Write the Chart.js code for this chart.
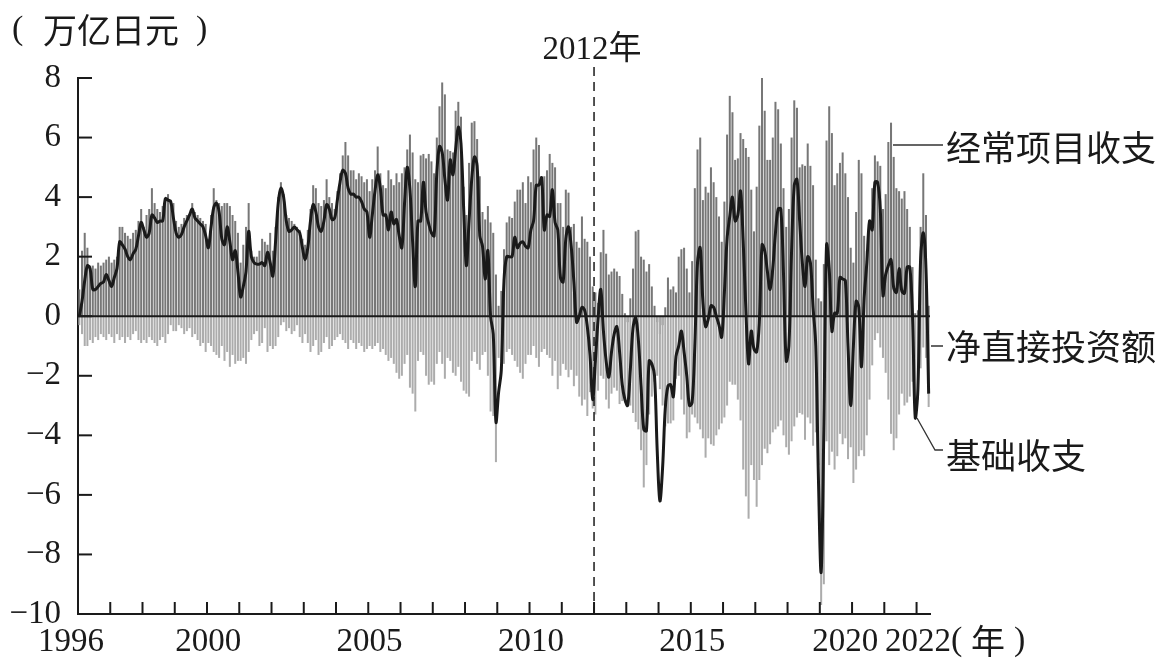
<!DOCTYPE html>
<html>
<head>
<meta charset="utf-8">
<script src="https://cdn.jsdelivr.net/npm/chart.js@4.4.0/dist/chart.umd.min.js"></script>
<style>
  html, body { margin: 0; padding: 0; background: #fff; }
  #wrap { width: 1166px; height: 672px; }
</style>
</head>
<body>
<div id="wrap"><canvas id="bopChart" width="1166" height="672"></canvas></div>
<script>
// monthly values, Jan 1996 - May 2022, trillion yen
const currentAccount = [
  0.9, 2.2, 2.8, 2.3, 1.7, 1.7, 1.6, 1.8, 1.7, 1.8, 1.9, 2.0,      // 1996
  1.8, 1.9, 2.0, 3.0, 3.0, 2.8, 2.7, 2.6, 2.8, 2.9, 3.2, 3.6,      // 1997
  3.0, 3.4, 3.6, 4.3, 3.8, 3.6, 3.5, 3.7, 3.9, 4.1, 3.9, 3.8,      // 1998
  3.2, 3.0, 3.1, 3.3, 3.4, 3.4, 3.8, 3.5, 3.4, 3.3, 3.2, 3.1,      // 1999
  2.6, 3.4, 4.3, 3.9, 3.8, 3.7, 3.8, 3.8, 3.7, 3.4, 3.2, 2.8,      // 2000
  1.8, 2.4, 3.0, 3.8, 2.2, 2.0, 2.0, 2.2, 2.6, 2.5, 2.4, 2.8,      // 2001
  2.2, 3.0, 4.0, 4.5, 4.1, 3.4, 3.3, 3.2, 3.1, 3.0, 2.9, 2.6,      // 2002
  2.4, 2.9, 3.6, 4.4, 4.3, 3.8, 3.7, 3.9, 4.6, 4.0, 3.8, 3.6,      // 2003
  4.2, 4.8, 5.4, 5.85, 5.4, 4.9, 4.9, 4.6, 4.8, 4.7, 4.5, 4.6,     // 2004
  4.2, 4.6, 4.9, 5.7, 4.8, 4.4, 4.3, 4.9, 4.6, 4.4, 4.8, 4.5,      // 2005
  4.8, 5.0, 5.6, 6.1, 5.5, 4.6, 4.5, 5.4, 5.45, 5.3, 5.45, 5.2,    // 2006
  4.8, 6.0, 7.05, 7.85, 7.45, 5.6, 5.55, 5.5, 6.9, 7.2, 6.7, 4.35, // 2007
  3.4, 5.15, 6.5, 6.55, 5.95, 4.7, 3.5, 3.25, 3.7, 3.15, 2.8, 1.4, // 2008
  0.35, 0.85, 2.25, 3.15, 3.35, 3.3, 3.85, 4.25, 4.25, 4.5, 3.8, 4.7, // 2009
  4.5, 5.6, 6.0, 5.75, 4.7, 4.7, 4.9, 5.45, 5.15, 5.0, 3.8, 3.8,   // 2010
  3.0, 4.25, 4.15, 3.0, 3.1, 2.5, 2.3, 3.35, 2.6, 2.5, 2.0, 1.0,   // 2011
  0.8, 0.45, 2.15, 2.9, 2.1, 1.4, 1.5, 1.6, 1.5, 1.35, 0.75, 0.1,  // 2012
  -0.2, 0.6, 1.6, 2.85, 2.9, 2.0, 1.9, 1.5, 1.75, 1.0, 0.35, -0.2, // 2013
  -0.6, -0.3, 0.3, 1.3, 0.9, 1.0, 0.8, 2.0, 2.25, 2.3, 1.6, 0.8,   // 2014
  1.85, 4.3, 5.6, 6.0, 3.9, 4.35, 4.15, 5.0, 4.5, 4.0, 3.35, 2.5,  // 2015
  3.85, 6.1, 7.4, 6.85, 5.25, 5.3, 6.15, 5.95, 5.65, 5.35, 4.25, 2.85, // 2016
  4.35, 6.4, 8.0, 6.9, 5.25, 5.25, 6.0, 7.2, 6.95, 5.8, 4.3, 3.0,  // 2017
  3.6, 6.0, 7.25, 7.0, 5.0, 5.1, 5.05, 5.8, 5.05, 4.4, 1.9, 0.6,   // 2018
  0.5, 1.75, 5.9, 7.05, 6.15, 4.4, 4.8, 5.15, 5.5, 4.8, 4.0, 2.3,  // 2019
  1.8, 3.5, 5.25, 4.8, 2.7, 2.2, 3.0, 4.3, 5.4, 5.2, 5.05, 3.6,    // 2020
  4.1, 5.85, 6.5, 5.35, 4.3, 4.2, 3.95, 4.2, 3.6, 3.0, 1.65, 0.1,  // 2021
  0.2, 3.0, 4.8, 3.4, 0.35                                         // 2022
];

const netFDI = [
  -0.3, -0.6, -1.0, -1.0, -0.8, -0.9, -0.7, -0.8, -0.6, -0.7, -0.8, -0.6,  // 1996
  -0.7, -0.9, -0.6, -0.8, -0.7, -0.9, -0.7, -0.8, -0.6, -0.5, -0.8, -0.9,  // 1997
  -0.8, -0.9, -0.7, -0.8, -0.9, -1.0, -0.8, -0.7, -0.9, -0.6, -0.3, -0.5,  // 1998
  -0.5, -0.3, -0.4, -0.6, -0.5, -0.4, -0.7, -0.6, -0.8, -1.0, -0.9, -1.2,  // 1999
  -0.9, -1.0, -1.2, -1.3, -1.4, -1.0, -1.5, -1.2, -1.7, -1.3, -1.6, -1.5,  // 2000
  -1.5, -1.4, -1.6, -1.2, -0.8, -0.6, -0.5, -1.0, -0.9, -0.4, -1.2, -1.0,  // 2001
  -1.1, -1.0, -0.7, -0.3, -0.2, -0.5, -0.4, -0.6, -0.5, -0.3, -0.7, -0.9,  // 2002
  -0.6, -0.9, -1.2, -1.0, -0.8, -1.3, -1.2, -0.9, -0.7, -1.1, -1.0, -0.8,  // 2003
  -0.7, -0.6, -0.8, -0.9, -1.1, -0.8, -0.9, -1.1, -0.9, -1.0, -1.2, -1.1,  // 2004
  -1.0, -1.1, -1.0, -0.9, -1.2, -1.1, -1.3, -1.5, -1.4, -1.6, -1.9, -2.1,  // 2005
  -2.0, -1.6, -1.3, -2.4, -2.6, -3.2, -1.5, -1.2, -1.3, -2.0, -2.3, -2.2,  // 2006
  -2.3, -1.6, -1.2, -1.6, -2.1, -1.4, -1.5, -1.9, -2.0, -1.7, -2.2, -2.5,  // 2007
  -2.6, -2.7, -1.5, -1.2, -1.6, -1.8, -1.3, -1.2, -2.0, -3.2, -3.35, -4.9, // 2008
  -1.4, -1.5, -1.6, -1.2, -1.1, -1.3, -1.5, -1.7, -1.9, -2.1, -1.6, -1.3,  // 2009
  -1.3, -1.0, -1.4, -1.7, -1.2, -1.1, -1.3, -1.4, -2.0, -1.5, -2.45, -2.0, // 2010
  -1.6, -1.8, -2.05, -1.8, -2.35, -2.0, -2.7, -3.0, -2.8, -3.35, -2.55, -3.1, // 2011
  -3.3, -2.5, -2.0, -2.1, -2.8, -3.1, -2.6, -2.4, -2.5, -2.95, -2.85, -2.9, // 2012
  -2.8, -3.0, -3.25, -3.55, -3.8, -4.5, -5.75, -5.0, -3.3, -2.7, -2.2, -2.0, // 2013
  -2.45, -3.0, -3.7, -3.6, -3.6, -3.5, -2.1, -2.0, -2.8, -3.3, -4.1, -3.9, // 2014
  -3.3, -3.4, -3.6, -3.8, -4.1, -4.75, -4.1, -4.3, -4.35, -4.0, -3.8, -3.6, // 2015
  -3.4, -3.0, -2.2, -2.3, -2.3, -2.8, -3.5, -5.15, -6.05, -6.8, -5.0, -5.5, // 2016
  -6.4, -5.5, -5.0, -4.45, -4.6, -4.3, -3.9, -3.8, -3.7, -3.5, -4.0, -4.4, // 2017
  -4.65, -4.2, -3.7, -3.4, -3.25, -3.3, -4.15, -3.4, -3.6, -4.35, -3.9, -5.0, // 2018
  -9.7, -9.0, -4.2, -5.0, -4.55, -5.15, -4.7, -3.95, -4.3, -4.1, -4.8, -4.4, // 2019
  -5.6, -5.15, -4.7, -4.5, -4.7, -4.0, -2.8, -1.65, -0.8, -0.57, -1.05, -1.4, // 2020
  -1.9, -2.8, -3.95, -4.5, -4.1, -3.3, -2.6, -3.0, -2.9, -2.7, -2.2, -3.4, // 2021
  -2.8, -1.75, -1.05, -1.4, -3.05                                          // 2022
];

const basicBalance = [
  0.0, 0.5, 1.2, 1.7, 1.6, 0.9, 0.9, 1.0, 1.1, 1.15, 1.4, 1.2,         // 1996
  1.0, 1.3, 1.6, 2.5, 2.4, 2.25, 2.0, 1.9, 2.1, 2.25, 2.7, 3.15,       // 1997
  2.9, 2.65, 2.8, 3.4, 3.3, 3.15, 3.2, 3.2, 3.95, 3.9, 3.85, 3.3,      // 1998
  2.8, 2.65, 2.75, 3.0, 3.2, 3.4, 3.6, 3.3, 3.2, 3.1, 3.0, 2.7,        // 1999
  2.3, 3.0, 3.65, 3.8, 3.5, 2.6, 2.4, 3.0, 2.5, 1.9, 2.2, 1.5,         // 2000
  0.65, 1.0, 1.5, 2.85, 2.0, 1.8, 1.75, 1.75, 1.8, 1.7, 2.15, 1.8,     // 2001
  1.35, 2.5, 3.8, 4.3, 4.0, 3.2, 2.85, 2.9, 3.0, 2.9, 2.8, 2.3,        // 2002
  1.9, 2.3, 3.2, 3.75, 3.5, 3.0, 2.85, 3.2, 3.75, 3.6, 3.25, 3.3,      // 2003
  3.9, 4.5, 4.9, 4.8, 4.3, 4.1, 4.1, 4.0, 4.0, 3.85, 3.6, 3.5,         // 2004
  2.65, 3.4, 4.2, 4.75, 4.3, 3.4, 3.4, 2.9, 3.5, 3.1, 3.25, 2.7,       // 2005
  2.3, 3.8, 5.0, 4.25, 2.5, 1.0, 3.2, 3.2, 4.5, 3.5, 3.1, 2.8,         // 2006
  2.7, 4.8, 5.7, 5.5, 4.6, 3.9, 5.25, 4.75, 5.6, 6.35, 5.8, 3.6,       // 2007
  1.7, 3.2, 4.6, 5.35, 5.05, 2.7, 2.35, 1.25, 2.2, 0.0, -0.6, -3.55,   // 2008
  -2.55, -1.8, 1.2, 2.0, 2.0, 2.0, 2.65, 2.3, 2.45, 2.5, 2.35, 2.3,    // 2009
  2.9, 3.2, 4.4, 4.4, 4.65, 2.9, 3.4, 3.35, 4.25, 3.15, 2.9, 1.3,      // 2010
  1.15, 2.6, 3.0, 2.35, 1.15, -0.2, 0.0, 0.3, 0.2, -0.35, -1.3, -2.8,  // 2011
  -1.5, -0.1, 0.9, -0.5, -1.5, -2.05, -1.2, -0.6, -0.35, -1.2, -2.3, -2.8, // 2012
  -3.0, -1.8, -0.4, -0.05, -0.8, -2.35, -3.8, -3.85, -1.5, -1.6, -2.0, -4.5, // 2013
  -6.2, -5.1, -3.1, -2.35, -2.3, -2.7, -1.35, -1.0, -0.5, -1.2, -2.0, -3.0, // 2014
  -2.9, -1.0, 1.8, 2.3, 0.5, -0.35, -0.1, 0.35, 0.3, 0.0, -0.3, -0.7,  // 2015
  0.8, 2.6, 3.35, 4.0, 3.2, 3.4, 4.2, 2.5, 0.2, -1.6, -0.5, -1.1,      // 2016
  -1.2, -0.2, 2.4, 2.2, 1.5, 0.9, 1.6, 2.8, 3.6, 3.6, 1.4, -1.5,       // 2017
  -1.0, 2.2, 4.4, 4.6, 3.2, 1.8, 1.0, 2.0, 1.8, 0.3, -1.0, -5.5,       // 2018
  -8.6, -3.8, 2.4, 1.6, -0.5, 0.1, 0.1, 1.3, 1.25, 1.2, -1.0, -3.0,    // 2019
  -1.0, 0.5, 0.3, -1.7, 0.6, 1.8, 3.2, 2.9, 4.5, 4.5, 3.6, 0.7,        // 2020
  1.4, 1.7, 1.9, 0.95, 0.8, 1.6, 0.85, 0.77, 1.65, 1.65, 0.0, -3.4,    // 2021
  -2.45, 1.9, 2.8, 1.6, -2.6                                           // 2022
];

const xLabelYears = [1996, 2000, 2005, 2010, 2015, 2020, 2022];
const yTicks = [8, 6, 4, 2, 0, -2, -4, -6, -8, -10];
const markYear = 2012;
const startYear = 1996;

const months = [];
for (let i = 0; i < currentAccount.length; i++) {
  const yr = startYear + Math.floor(i / 12);
  months.push(yr + '-' + String(i % 12 + 1).padStart(2, '0'));
}

const INK = '#1a1a1a';
const NUM_FONT = "'Liberation Serif', 'Noto Sans CJK SC', serif";
const CJK_FONT = "'Noto Sans CJK SC', 'Liberation Serif', sans-serif";

// where a year starts on the category axis
function yearPx(xs, yr) {
  return xs.getPixelForValue((yr - startYear) * 12 - 0.5);
}

const decor = {
  id: 'decor',
  beforeDatasetDraw(chart, args) {
    if (args.index !== 2) return;
    // zero line under the basic balance curve
    const { ctx, chartArea: a, scales: { y } } = chart;
    const y0 = y.getPixelForValue(0);
    ctx.save();
    ctx.strokeStyle = INK;
    ctx.lineWidth = 2;
    ctx.beginPath();
    ctx.moveTo(a.left, y0);
    ctx.lineTo(a.right, y0);
    ctx.stroke();
    ctx.restore();
  },
  afterDraw(chart) {
    const { ctx, chartArea: a, scales: { x, y } } = chart;
    ctx.save();
    ctx.strokeStyle = INK;
    ctx.lineWidth = 2;

    // inward tick marks
    yTicks.forEach(v => {
      const py = y.getPixelForValue(v);
      ctx.beginPath();
      ctx.moveTo(a.left, py);
      ctx.lineTo(a.left + 14, py);
      ctx.stroke();
    });
    for (let yr = startYear + 1; yr <= 2022; yr++) {
      const px = yearPx(x, yr);
      ctx.beginPath();
      ctx.moveTo(px, a.bottom);
      ctx.lineTo(px, a.bottom - 12);
      ctx.stroke();
    }

    // 2012 marker
    const mx = yearPx(x, markYear);
    ctx.lineWidth = 1.5;
    ctx.setLineDash([9, 6]);
    ctx.beginPath();
    ctx.moveTo(mx, 67);
    ctx.lineTo(mx, a.bottom);
    ctx.stroke();
    ctx.setLineDash([]);

    ctx.fillStyle = INK;
    ctx.textBaseline = 'middle';
    ctx.font = '33px ' + NUM_FONT;
    ctx.textAlign = 'center';
    ctx.fillText(markYear + '年', mx - 2, 50);

    // unit labels
    ctx.textAlign = 'left';
    ctx.font = '34px ' + NUM_FONT;
    ctx.fillText('(', 12, 30);
    ctx.fillText(')', 196, 30);
    ctx.fillText('(', 951, 641);
    ctx.fillText(')', 1014, 641);
    ctx.font = '34px ' + CJK_FONT;
    ctx.fillText('万亿日元', 43, 30);
    ctx.fillText('年', 971, 641);

    // series labels with leader lines
    ctx.font = '35px ' + CJK_FONT;
    ctx.fillText('经常项目收支', 946, 148);
    ctx.fillText('净直接投资额', 946, 347);
    ctx.fillText('基础收支', 946, 456);

    ctx.lineWidth = 1.3;
    ctx.strokeStyle = '#333';
    ctx.beginPath();
    ctx.moveTo(893, 145); ctx.lineTo(943, 145);
    ctx.moveTo(931, 346); ctx.lineTo(943, 346);
    ctx.moveTo(917, 418); ctx.lineTo(935, 450); ctx.lineTo(943, 450);
    ctx.stroke();
    ctx.restore();
  }
};

Chart.defaults.font.family = NUM_FONT;
Chart.defaults.color = INK;

const ctx = document.getElementById('bopChart').getContext('2d');

const data = {
  labels: months,
  datasets: [
    {
      type: 'bar',
      label: '经常项目收支',
      data: currentAccount,
      backgroundColor: '#777777',
      grouped: false,
      barPercentage: 0.75,
      categoryPercentage: 1.0,
      order: 2,
    },
    {
      type: 'bar',
      label: '净直接投资额',
      data: netFDI,
      backgroundColor: '#acacac',
      grouped: false,
      barPercentage: 0.75,
      categoryPercentage: 1.0,
      order: 1,
    },
    {
      type: 'line',
      label: '基础收支',
      data: basicBalance,
      borderColor: '#1a1a1a',
      borderWidth: 3,
      pointRadius: 0,
      tension: 0.35,
      fill: false,
      order: 0,
    },
  ],
};

const config = {
  type: 'bar',
  data: data,
  options: {
    responsive: false,
    animation: false,
    devicePixelRatio: 1,
    layout: { padding: { left: 0, right: 236, top: 78, bottom: 0 } },
    plugins: {
      legend: { display: false },
      tooltip: { enabled: false },
    },
    scales: {
      x: {
        type: 'category',
        offset: true,
        grid: { display: false, drawTicks: false },
        border: { display: true, color: INK, width: 2 },
        ticks: {
          autoSkip: false,
          maxRotation: 0,
          minRotation: 0,
          padding: 9,
          font: { size: 33 },
          color: INK,
          callback: (v, i) => {
            const [yr, mo] = months[i].split('-');
            if (mo !== '01' || !xLabelYears.includes(+yr)) return '';
            // nudge the first and the crowded 2020 label off their neighbours
            return (yr === '1996' || yr === '2020') ? yr + '\u2002' : yr;
          },
        },
        afterFit: s => { s.height = 58; },
      },
      y: {
        min: -10,
        max: 8,
        afterBuildTicks: s => { s.ticks = yTicks.map(v => ({ value: v })); },
        grid: { display: false, drawTicks: false },
        border: { display: true, color: INK, width: 2 },
        ticks: {
          padding: 17,
          font: { size: 33 },
          color: INK,
          callback: v => (v < 0 ? '−' + Math.abs(v) : String(v)),
        },
        afterFit: s => { s.width = 78; },
      },
    },
  },
  plugins: [decor],
};

const myChart = new Chart(ctx, config);
</script>
</body>
</html>
